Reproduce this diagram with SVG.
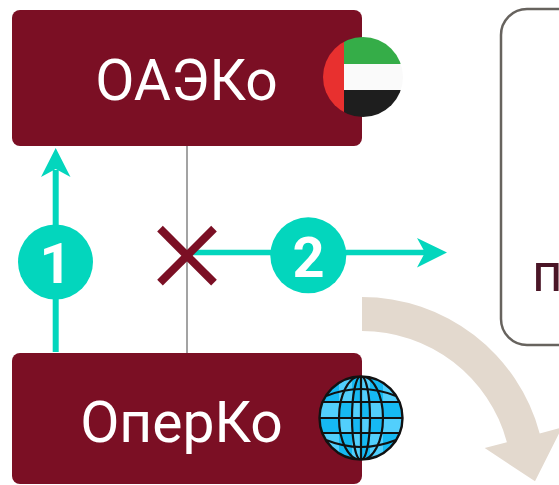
<svg xmlns="http://www.w3.org/2000/svg" width="559" height="485" viewBox="0 0 559 485">
  <style>
    .box { fill: #7b0f24; }
    .label { font-family: Roboto, "Liberation Sans", sans-serif; fill: #ffffff; font-size: 57px; }
    .badge { fill: #03d6bd; }
    .num { font-family: Roboto, "Liberation Sans", sans-serif; font-weight: bold; fill: #ffffff; font-size: 56px; text-anchor: middle; }
    .teal { stroke: #03d6bd; fill: none; }
    .tealfill { fill: #03d6bd; }
    .grid { fill: none; stroke: #111111; stroke-width: 2.2; }
  </style>
  <defs>
    <clipPath id="flagClip"><circle cx="363" cy="77" r="40"/></clipPath>
    <clipPath id="globeClip"><circle cx="361" cy="418" r="42"/></clipPath>
  </defs>
  <rect width="559" height="485" fill="#ffffff"/>

  <!-- right box (partially visible) -->
  <g id="node-right">
    <rect x="501" y="9" width="200" height="336" rx="26" fill="#ffffff" stroke="#67635e" stroke-width="2.5"/>
    <text x="532" y="291" font-family="Roboto, 'Liberation Sans', sans-serif" font-size="53" fill="#4a1526">п</text>
  </g>

  <!-- big beige curved arrow -->
  <g id="flow-arrow">
    <path d="M362,297 A184,184 0 0 1 539.7,433.4 L562,427.4 L535,481.3 L484.7,448.1 L506.9,442.2 A150,150 0 0 0 362,331 Z" fill="#e3d9ce"/>
  </g>

  <!-- connectors -->
  <g id="connectors">
    <line x1="187" y1="146" x2="187" y2="353" stroke="#8c8c8c" stroke-width="1.6"/>
    <line class="teal" x1="55.7" y1="352" x2="55.7" y2="170" stroke-width="6"/>
    <polygon class="tealfill" points="55.7,148 70.5,177 55.7,169 41,177"/>
    <line class="teal" x1="188" y1="252.5" x2="426" y2="252.5" stroke-width="5.5"/>
    <polygon class="tealfill" points="447,252.5 417,267.5 425,252.5 417,238"/>
    <g id="blocked">
      <line x1="160" y1="228.7" x2="214" y2="282.7" stroke="#7b0f24" stroke-width="8"/>
      <line x1="214" y1="228.7" x2="160" y2="282.7" stroke="#7b0f24" stroke-width="8"/>
    </g>
  </g>

  <!-- badges -->
  <g id="badge-1">
    <circle class="badge" cx="55.5" cy="262" r="37.5"/>
    <text class="num" x="55.5" y="282.5">1</text>
  </g>
  <g id="badge-2">
    <circle class="badge" cx="308.3" cy="255.3" r="38"/>
    <text class="num" x="308.5" y="276.5">2</text>
  </g>

  <!-- top node -->
  <g id="node-oaeko">
    <rect class="box" x="12" y="10" width="350" height="136" rx="8"/>
    <text class="label" x="186.5" y="100" text-anchor="middle">ОАЭКо</text>
    <g clip-path="url(#flagClip)">
      <rect x="323" y="37" width="21" height="80" fill="#e8302f"/>
      <rect x="344" y="37" width="59" height="27" fill="#35ad48"/>
      <rect x="344" y="64" width="59" height="26" fill="#fafafa"/>
      <rect x="344" y="90" width="59" height="27" fill="#1e1e1e"/>
    </g>
  </g>

  <!-- bottom node -->
  <g id="node-operko">
    <rect class="box" x="12" y="353" width="350" height="131" rx="8"/>
    <text class="label" x="181.5" y="442" text-anchor="middle">ОперКо</text>
    <g id="globe">
      <circle cx="361" cy="418" r="42" fill="#52cffc"/>
      <g clip-path="url(#globeClip)" fill="#16b9f3">
        <rect x="352" y="376" width="9" height="26"/>
        <rect x="370" y="376" width="13" height="26"/>
        <rect x="319" y="376" width="20" height="26"/>
        <rect x="339" y="402" width="13" height="16"/>
        <rect x="361" y="402" width="9" height="16"/>
        <rect x="383" y="402" width="20" height="16"/>
        <rect x="319" y="418" width="20" height="15"/>
        <rect x="352" y="418" width="9" height="15"/>
        <rect x="370" y="418" width="13" height="15"/>
        <rect x="339" y="433" width="13" height="27"/>
        <rect x="361" y="433" width="9" height="27"/>
        <rect x="383" y="433" width="20" height="27"/>
      </g>
      <g clip-path="url(#globeClip)" class="grid">
        <ellipse cx="361" cy="418" rx="22" ry="42"/>
        <ellipse cx="361" cy="418" rx="9" ry="42"/>
        <line x1="361" y1="376" x2="361" y2="460"/>
        <line x1="319" y1="418" x2="403" y2="418"/>
        <line x1="319" y1="402" x2="403" y2="402"/>
        <line x1="319" y1="433" x2="403" y2="433"/>
        <path d="M326,396 Q361,382 396,396"/>
        <path d="M326,440 Q361,454 396,440"/>
      </g>
      <circle cx="361" cy="418" r="41.5" fill="none" stroke="#111111" stroke-width="2.4"/>
    </g>
  </g>
</svg>
